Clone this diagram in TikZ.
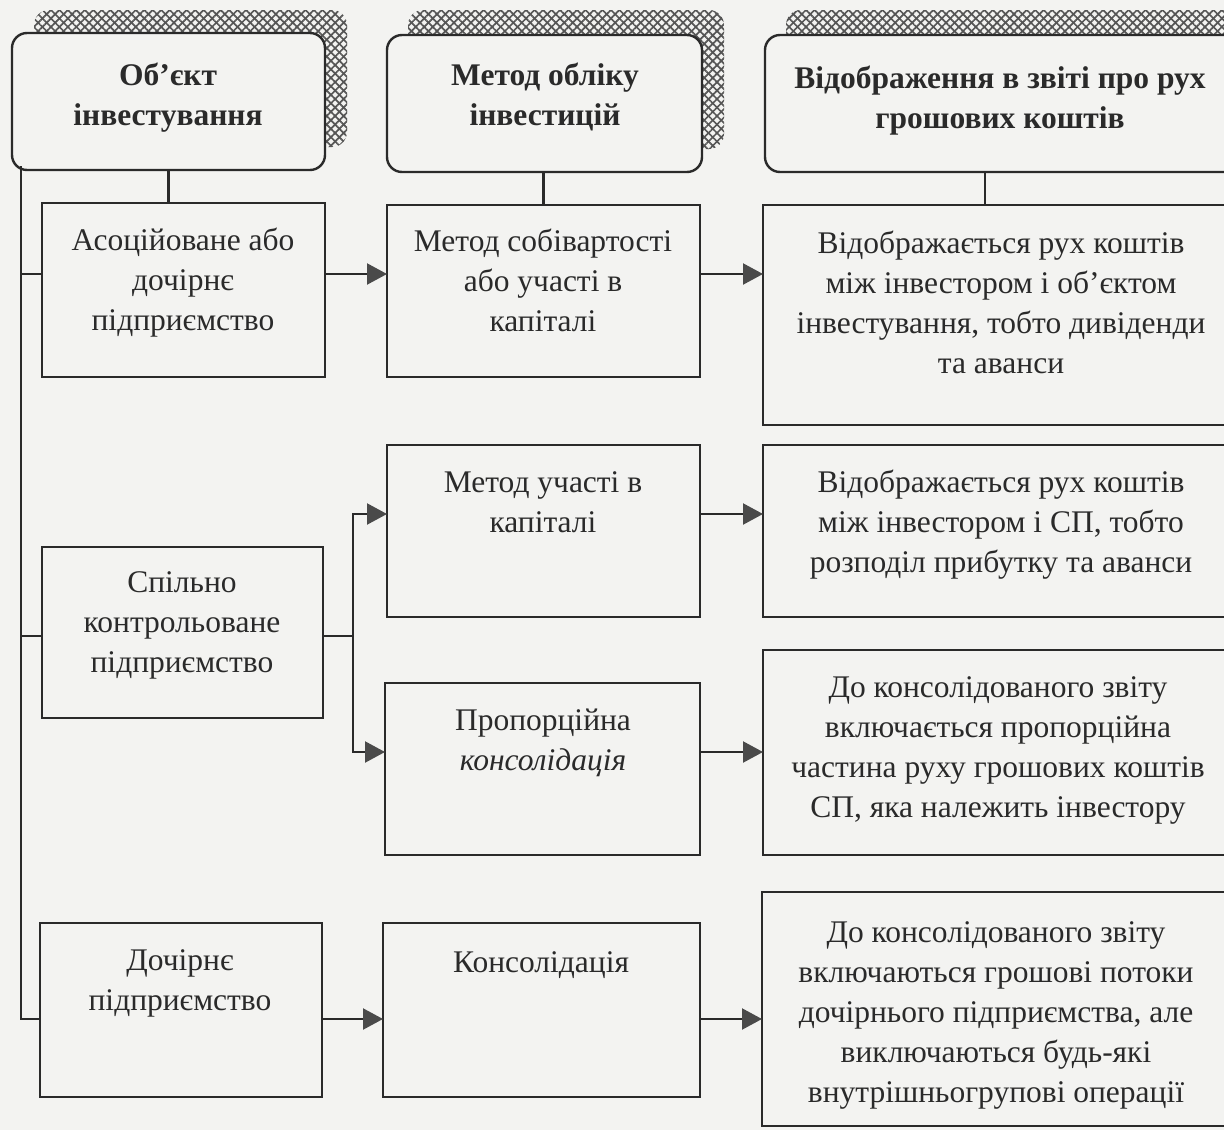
\documentclass[tikz,border=0pt]{standalone}
\usepackage{fontspec}
\setmainfont{Liberation Serif}
\usetikzlibrary{arrows.meta,patterns.meta,calc}

\definecolor{ink}{HTML}{2A2A2A}
\definecolor{paper}{HTML}{F3F3F1}
\definecolor{hatch}{HTML}{555555}
\definecolor{tip}{HTML}{4A4A4A}

\begin{document}
\begin{tikzpicture}[x=1pt,y=-1pt,
  box/.style={draw=ink,line width=2.4pt,inner sep=0pt,outer sep=0pt,anchor=north west},
  headbox/.style={box,fill=paper,rounded corners=15pt},
  shade/.style={rounded corners=15pt,
    postaction={pattern={Lines[angle=45,distance=6pt,line width=1.7pt]},pattern color=hatch},
    postaction={pattern={Lines[angle=-45,distance=6pt,line width=1.7pt]},pattern color=hatch}},
  txt/.style={anchor=north,align=center,inner sep=0pt,text=ink,font=\fontsize{31.5}{40}\selectfont},
  hdr/.style={txt,font=\fontsize{31.5}{40}\selectfont\bfseries},
  wire/.style={draw=ink,line width=2.2pt},
  arr/.style={wire,-{Triangle[length=20pt,width=21pt,color=tip]}}]

\useasboundingbox (0,0) rectangle (1224,1130);
\fill[paper] (0,0) rectangle (1224,1130);
\clip (0,0) rectangle (1224,1130);

% hatched shadows behind the column headers
\path[shade] (34,10) rectangle (347,147);
\path[shade] (408,10) rectangle (724,149);
\path[shade] (786,10) rectangle (1262,149);

% column headers
\node[headbox,minimum width=313pt,minimum height=137pt] (h1) at (12,33) {};
\node[headbox,minimum width=315pt,minimum height=137pt] (h2) at (387,35) {};
\node[headbox,minimum width=475pt,minimum height=137pt] (h3) at (765,35) {};
\node[hdr] (h1t) at (168,57) {\strut Об’єкт\\інвестування};
\node[hdr] (h2t) at (545,57) {\strut Метод обліку\\інвестицій};
\node[hdr] (h3t) at (1000,60) {\strut Відображення в звіті про рух\\грошових коштів};

% first column
\node[box,minimum width=283pt,minimum height=174pt] (a1) at (42,203) {};
\node[box,minimum width=281pt,minimum height=171pt] (a2) at (42,547) {};
\node[box,minimum width=282pt,minimum height=174pt] (a3) at (40,923) {};
\node[txt] (a1t) at (183,222) {\strut Асоційоване або\\дочірнє\\підприємство};
\node[txt] (a2t) at (182,564) {\strut Спільно\\контрольоване\\підприємство};
\node[txt] (a3t) at (180,942) {\strut Дочірнє\\підприємство};

% second column
\node[box,minimum width=313pt,minimum height=172pt] (b1) at (387,205) {};
\node[box,minimum width=313pt,minimum height=172pt] (b2) at (387,445) {};
\node[box,minimum width=315pt,minimum height=172pt] (b3) at (385,683) {};
\node[box,minimum width=317pt,minimum height=174pt] (b4) at (383,923) {};
\node[txt] (b1t) at (543,223) {\strut Метод собівартості\\або участі в\\капіталі};
\node[txt] (b2t) at (543,464) {\strut Метод участі в\\капіталі};
\node[txt] (b3t) at (543,702) {\strut Пропорційна\\\textit{консолідація}};
\node[txt] (b4t) at (541,944) {\strut Консолідація};

% third column
\node[box,minimum width=477pt,minimum height=220pt] (c1) at (763,205) {};
\node[box,minimum width=477pt,minimum height=172pt] (c2) at (763,445) {};
\node[box,minimum width=477pt,minimum height=205pt] (c3) at (763,650) {};
\node[box,minimum width=477pt,minimum height=234pt] (c4) at (762,892) {};
\node[txt] (c1t) at (1001,225) {\strut Відображається рух коштів\\між інвестором і об’єктом\\інвестування, тобто дивіденди\\та аванси};
\node[txt] (c2t) at (1001,464) {\strut Відображається рух коштів\\між інвестором і СП, тобто\\розподіл прибутку та аванси};
\node[txt] (c3t) at (998,669) {\strut До консолідованого звіту\\включається пропорційна\\частина руху грошових коштів\\СП, яка належить інвестору};
\node[txt] (c4t) at (996,914) {\strut До консолідованого звіту\\включаються грошові потоки\\дочірнього підприємства, але\\виключаються будь-які\\внутрішньогрупові операції};

% helper levels for the connectors
\coordinate (lv0) at (0,166);
\coordinate (lv1) at (0,274);
\coordinate (lv2) at (0,636);
\coordinate (lvB2) at (0,514);
\coordinate (lvB3) at (0,752);
\coordinate (lv3) at (0,1019);
\coordinate (rail) at (21,0);
\coordinate (fork) at (353,636);
\coordinate (h3drop) at (985,0);

% header stubs
\draw[wire] (h1.south) -- (h1.south |- a1.north);
\draw[wire] (h2.south -| b1.north) -- (b1.north);
\draw[wire] (h3drop |- h3.south) -- (h3drop |- c1.north);

% left rail from the first header down to every object box
\draw[wire] (rail |- lv0) -- (rail |- lv3) -- (a3.west |- lv3);
\draw[wire] (rail |- lv1) -- (a1.west |- lv1);
\draw[wire] (rail |- lv2) -- (a2.west |- lv2);

% row arrows
\draw[arr] (a1.east |- lv1) -- (b1.west |- lv1);
\draw[arr] (b1.east |- lv1) -- (c1.west |- lv1);
\draw[wire] (a2.east |- fork) -- (fork);
\draw[arr] (fork) |- (b2.west |- lvB2);
\draw[arr] (fork) |- (b3.west |- lvB3);
\draw[arr] (b2.east |- lvB2) -- (c2.west |- lvB2);
\draw[arr] (b3.east |- lvB3) -- (c3.west |- lvB3);
\draw[arr] (a3.east |- lv3) -- (b4.west |- lv3);
\draw[arr] (b4.east |- lv3) -- (c4.west |- lv3);
\end{tikzpicture}
\end{document}
